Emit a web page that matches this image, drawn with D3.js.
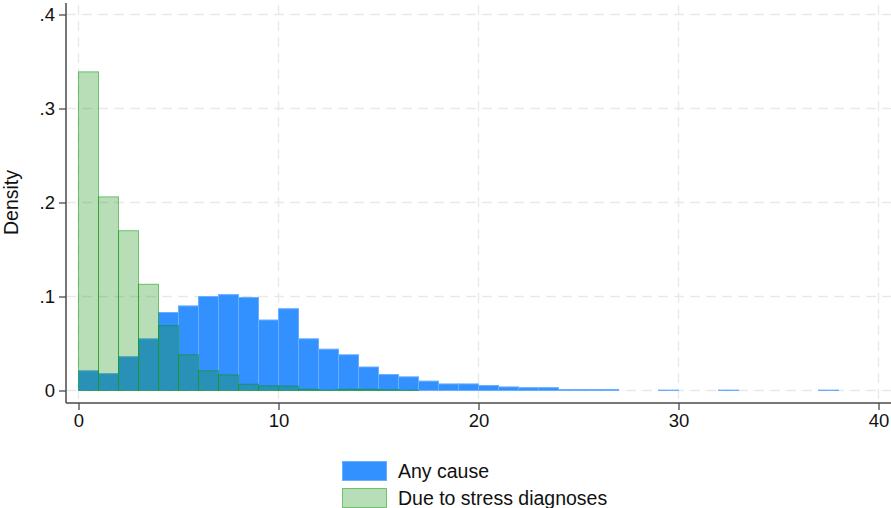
<!DOCTYPE html>
<html>
<head>
<meta charset="utf-8">
<script src="https://cdn.jsdelivr.net/npm/d3@7"></script>
<style>
  html, body { margin: 0; padding: 0; background: #fff; }
  svg { display: block; font-family: "Liberation Sans", Arial, sans-serif; }
</style>
</head>
<body>
<svg id="chart" width="891" height="508"></svg>
<script>
// Histogram bins: left edge of each one-unit bin
const binStarts = d3.range(0, 38);
// Density per bin, any cause
const anyCause = [
  0.021, 0.018, 0.036, 0.055, 0.083, 0.090, 0.100, 0.102, 0.099, 0.075,
  0.087, 0.055, 0.044, 0.038, 0.025, 0.017, 0.0145, 0.010, 0.007, 0.007,
  0.0053, 0.0038, 0.003, 0.003, 0.0011, 0.0011, 0.0011, 0, 0, 0.0004,
  0, 0, 0.0004, 0, 0, 0, 0, 0.0004
];
// Density per bin, due to stress diagnoses
const stressDiag = [
  0.339, 0.206, 0.170, 0.113, 0.069, 0.038, 0.021, 0.0166, 0.0067, 0.005,
  0.0048, 0.0013, 0.0005, 0.0014, 0.0013, 0.0008, 0.0004
];
const xTicks = [0, 10, 20, 30, 40];
const yTicks = [0, 0.1, 0.2, 0.3, 0.4];
const seriesNames = ["Any cause", "Due to stress diagnoses"];

const svg = d3.select("#chart");

const plot = { left: 66, right: 891, top: 3, bottom: 403 };
const x = d3.scaleLinear().domain([0, 40]).range([78.5, 878.5]);
const y = d3.scaleLinear().domain([0, 0.4]).range([390.5, 14.5]);

const gridColor = "#e9e9e9";
const axisColor = "#4a4a4a";

// Dashed grid
svg.append("g").selectAll("line.hg").data(yTicks).join("line")
  .attr("x1", plot.left).attr("x2", plot.right)
  .attr("y1", d => y(d)).attr("y2", d => y(d))
  .attr("stroke", gridColor).attr("stroke-width", 1.4)
  .attr("stroke-dasharray", "10,6");
svg.append("g").selectAll("line.vg").data(xTicks).join("line")
  .attr("x1", d => x(d)).attr("x2", d => x(d))
  .attr("y1", plot.top + 2).attr("y2", plot.bottom)
  .attr("stroke", gridColor).attr("stroke-width", 1.4)
  .attr("stroke-dasharray", "10,6");

// Bars: any cause (opaque blue), stress diagnoses (translucent green) on top
const blue = { fill: "rgb(51,145,255)", stroke: "rgb(105,175,255)" };
const green = { fill: "rgba(20,146,20,0.3)", stroke: "rgba(0,150,0,0.5)" };

svg.append("g").selectAll("rect").data(anyCause.map((v, i) => ({ x0: binStarts[i], v })))
  .join("rect")
  .filter(d => d.v > 0)
  .attr("x", d => x(d.x0))
  .attr("width", d => x(d.x0 + 1) - x(d.x0))
  .attr("y", d => y(d.v))
  .attr("height", d => y(0) - y(d.v))
  .attr("fill", blue.fill)
  .attr("stroke", blue.stroke).attr("stroke-width", 1);

svg.append("g").selectAll("rect").data(stressDiag.map((v, i) => ({ x0: binStarts[i], v })))
  .join("rect")
  .filter(d => d.v > 0)
  .attr("x", d => x(d.x0))
  .attr("width", d => x(d.x0 + 1) - x(d.x0))
  .attr("y", d => y(d.v))
  .attr("height", d => y(0) - y(d.v))
  .attr("fill", green.fill)
  .attr("stroke", green.stroke).attr("stroke-width", 1);

// Axes
const fmtY = d => d === 0 ? "0" : d3.format(".1f")(d).replace(/^0/, "");

const yAxis = svg.append("g")
  .attr("transform", `translate(${plot.left},0)`)
  .call(d3.axisLeft(y).tickValues(yTicks).tickFormat(fmtY).tickSize(7).tickPadding(4));
const xAxis = svg.append("g")
  .attr("transform", `translate(0,${plot.bottom})`)
  .call(d3.axisBottom(x).tickValues(xTicks).tickFormat(d3.format("d")).tickSize(7).tickPadding(4));

[yAxis, xAxis].forEach(g => {
  g.select(".domain").remove();
  g.selectAll(".tick line").attr("stroke", axisColor).attr("stroke-width", 1.3);
  g.selectAll(".tick text").attr("fill", "#111").style("font-size", "18.5px")
    .style("font-family", "'Liberation Sans', Arial, sans-serif");
});

svg.append("line")
  .attr("x1", plot.left).attr("x2", plot.left)
  .attr("y1", plot.top).attr("y2", plot.bottom)
  .attr("stroke", axisColor).attr("stroke-width", 1.5);
svg.append("line")
  .attr("x1", plot.left).attr("x2", plot.right)
  .attr("y1", plot.bottom).attr("y2", plot.bottom)
  .attr("stroke", axisColor).attr("stroke-width", 1.5);

// Y axis title
svg.append("text")
  .attr("transform", `translate(18,${y(0.2)}) rotate(-90)`)
  .attr("text-anchor", "middle")
  .attr("fill", "#111")
  .style("font-size", "19.5px")
  .text("Density");

// Legend
const legend = svg.append("g").attr("transform", "translate(342,461)");
const swatches = [blue, green];
seriesNames.forEach((name, i) => {
  const row = legend.append("g").attr("transform", `translate(0,${i * 27})`);
  row.append("rect")
    .attr("x", 0.5).attr("y", 0.5).attr("width", 44).attr("height", 19)
    .attr("fill", swatches[i].fill).attr("stroke", swatches[i].stroke).attr("stroke-width", 1);
  row.append("text")
    .attr("x", 56).attr("y", 17)
    .attr("fill", "#111")
    .style("font-size", "19.5px")
    .text(name);
});
</script>
</body>
</html>
